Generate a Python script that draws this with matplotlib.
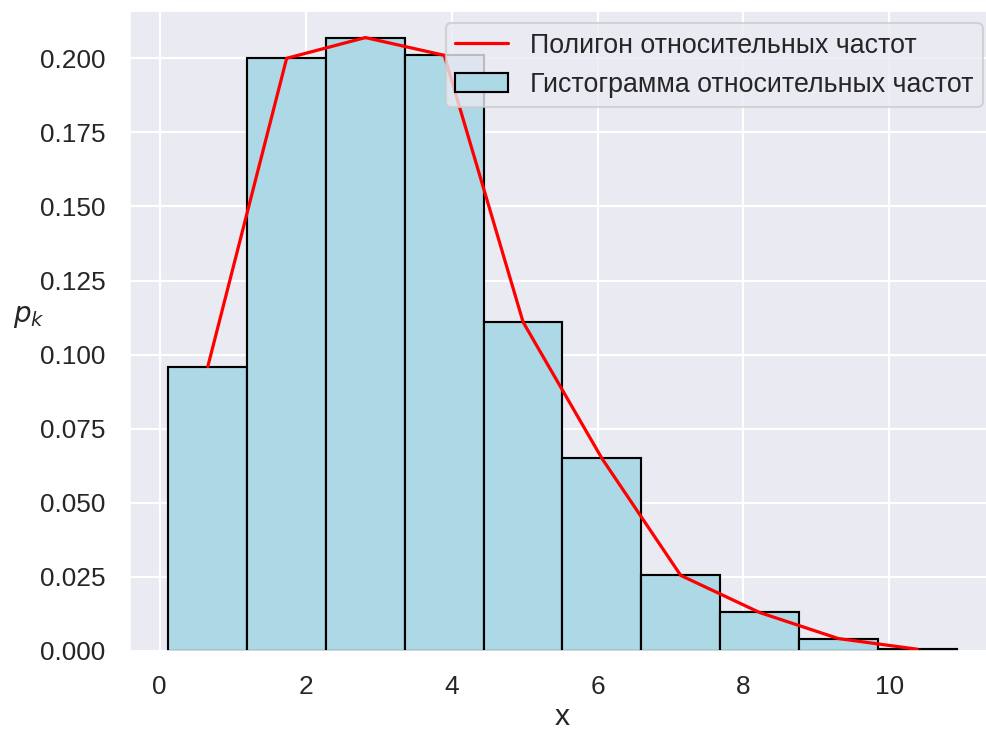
import numpy as np
import matplotlib
matplotlib.use("Agg")
import matplotlib.pyplot as plt
import seaborn as sns
from matplotlib.ticker import MultipleLocator

# bin edges and relative-frequency heights
bin_edges = [0.12, 1.20, 2.28, 3.36, 4.44, 5.52, 6.60, 7.68, 8.76, 9.84, 10.92]
heights = [0.096, 0.200, 0.207, 0.201, 0.111, 0.065, 0.0255, 0.0130, 0.0042, 0.0006]
poly_label = "Полигон относительных частот"
hist_label = "Гистограмма относительных частот"

sns.set_theme(style="darkgrid")
plt.rcParams['font.family'] = ['Liberation Sans', 'DejaVu Sans']

edges = np.array(bin_edges)
widths = np.diff(edges)
mids = (edges[:-1] + edges[1:]) / 2

fig = plt.figure(figsize=(986/154, 733/154), dpi=154)
ax = fig.add_axes([129/986, 82/733, 867/986, 641/733])
ax.bar(edges[:-1], heights, width=widths, align="edge", color="lightblue",
       edgecolor="black", linewidth=1.0, label=hist_label)
ax.plot(mids, heights, color="red", linewidth=1.5, label=poly_label)

ax.set_ylim(0, 0.2163)
ax.xaxis.set_major_locator(MultipleLocator(2))
ax.yaxis.set_major_locator(MultipleLocator(0.025))
ax.tick_params(labelsize=12.3, pad=5)
ax.set_xlabel("x", fontsize=14, labelpad=2)
ax.set_ylabel("$p_k$", rotation=0, fontsize=13, labelpad=5)
ax.legend(loc="upper right", fontsize=12.5, borderpad=0.35)

fig.savefig("out.png", dpi=154)
